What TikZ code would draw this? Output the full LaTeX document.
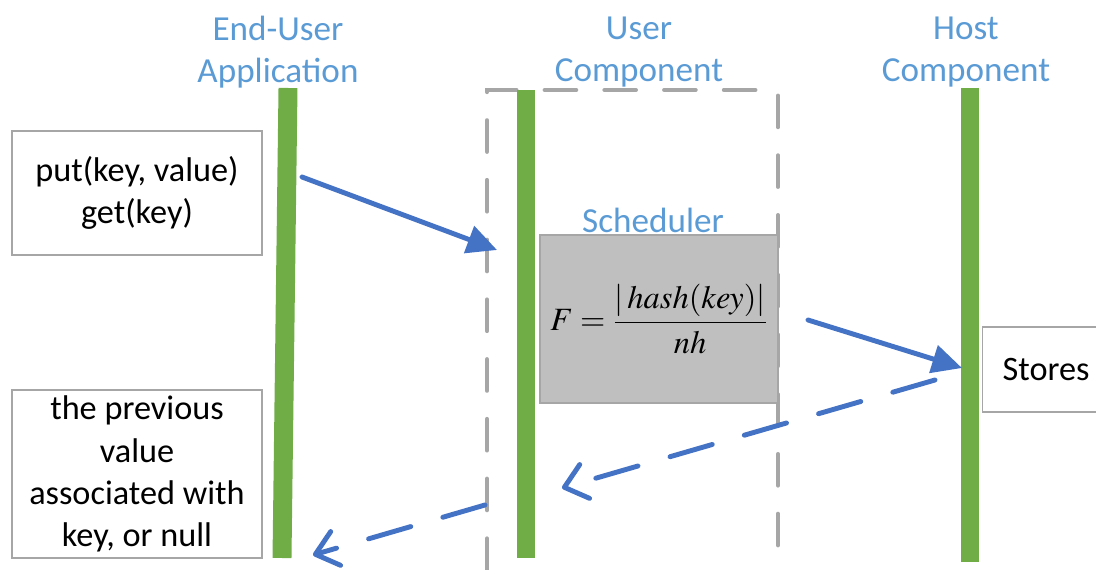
\documentclass[tikz,border=0pt]{standalone}
\usepackage{amsmath}
\usepackage{mathptmx}
\usepackage{fontspec}
\setmainfont{Carlito}
\usetikzlibrary{arrows.meta}
\definecolor{lifegreen}{RGB}{112,173,71}
\definecolor{msgblue}{RGB}{68,114,196}
\definecolor{headblue}{RGB}{91,155,213}
\definecolor{boxgray}{RGB}{191,191,191}
\definecolor{edgegray}{RGB}{166,166,166}

\begin{document}
\begin{tikzpicture}
	 [x=0.02cm,y=-0.02cm,
	  head/.style={text=headblue,align=center,font=\fontsize{20}{24}\selectfont},
	  note/.style={draw=edgegray,line width=0.8pt,fill=white,align=center,inner sep=0pt,
	    font=\fontsize{19.5}{24}\selectfont},
	  life/.style={draw=lifegreen,line width=10.8pt},
	  msg/.style={draw=msgblue,line width=2.8pt,line cap=round,-{Triangle[length=17pt,width=16pt]}},
	  reply/.style={draw=msgblue,line width=2.8pt,line cap=round,dash pattern=on 25pt off 19pt,
	    -{Straight Barb[length=12pt,width=20pt,round]}}]

  \useasboundingbox (0,0) rectangle (1096,570);

  % headers
  \node[head] (eua) at (278,52) {End-User\\Application};
  \node[head] (uc) at (639,52) {User\\Component};
  \node[head] (hc) at (966,52) {Host\\Component};

  % user component frame
  \draw[edgegray,line width=2.3pt,line cap=round,dash pattern=on 18pt off 16pt]
    (487,570) -- (487,90) -- (778,90) -- (778,570);

  % lifelines
  \coordinate (a) at (288,88);
  \coordinate (b) at (282,558);
  \coordinate (c) at (526,90);
  \coordinate (d) at (526,558);
  \coordinate (e) at (970,88);
  \coordinate (f) at (970,562);
  \foreach \from/\to in {a/b,c/d,e/f}
    \draw[life] (\from) -- (\to);

  % notes
  \node[note,minimum width=250*0.02cm,minimum height=124*0.02cm] (call) at (137,193)
    {put(key, value)\\get(key)};
  \node[note,minimum width=250*0.02cm,minimum height=168*0.02cm] (ret) at (137,474)
    {the previous\\value\\associated with\\key, or null};
  \node[note,anchor=west,minimum width=140*0.02cm,minimum height=85*0.02cm,
    align=left,text width=100*0.02cm,inner xsep=16*0.02cm] (st) at (982,369.5) {Stores};

  % scheduler
  \node[draw=edgegray,fill=boxgray,line width=1.2pt,minimum width=238*0.02cm,
    minimum height=168*0.02cm,inner sep=0pt] (sch) at (659,319)
    {\fontsize{18.5}{22}\selectfont$F=\dfrac{|\,hash(key)|}{nh}$};
  \node[head] (schl) at (653,220) {Scheduler};

  % messages
  \coordinate (m1) at (302,177);
  \coordinate (m2) at (497,250);
  \coordinate (m3) at (808,320);
  \coordinate (m4) at (962,368);
  \coordinate (r1) at (935,380);
  \coordinate (r2) at (562,488);
  \coordinate (r3) at (485,505);
  \coordinate (r4) at (313,555);
  \foreach \from/\to in {m1/m2,m3/m4}
    \draw[msg] (\from) -- (\to);
  \foreach \from/\to in {r1/r2,r3/r4}
    \draw[reply] (\from) -- (\to);

\end{tikzpicture}
\end{document}
